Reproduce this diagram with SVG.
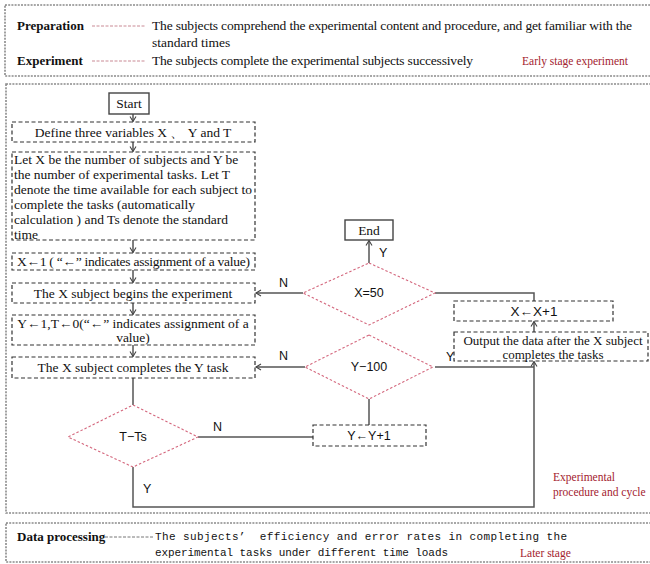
<svg xmlns="http://www.w3.org/2000/svg" width="650" height="564" viewBox="0 0 650 564">
<defs>
<style>
.frame{fill:none;stroke:#8a8a8a;stroke-width:1.6;stroke-dasharray:2 1.2}
.box{fill:#fff;stroke:#333;stroke-width:1.2;stroke-dasharray:4 2.5}
.solid{fill:#fff;stroke:#444;stroke-width:1.4}
.dia{fill:#fff;stroke:#d4677d;stroke-width:1.1;stroke-dasharray:2.5 2}
.conn{fill:none;stroke:#555;stroke-width:1.5}
.lead{fill:none;stroke:#c98a95;stroke-width:1;stroke-dasharray:3 1.5}
.serif{font-family:"Liberation Serif","Times New Roman",serif;font-size:13.5px;fill:#111}
.bold{font-family:"Liberation Serif","Times New Roman",serif;font-size:13px;font-weight:bold;fill:#111}
.sans{font-family:"Liberation Sans",Arial,sans-serif;font-size:12.5px;fill:#111}
.red{font-family:"Liberation Serif","Times New Roman",serif;font-size:11.5px;fill:#a3222e}
.mono{font-family:"Liberation Mono","Courier New",monospace;font-size:11px;fill:#111}
.c{text-anchor:middle}
</style>
<marker id="arr" markerWidth="8" markerHeight="8" refX="6" refY="4" orient="auto" markerUnits="userSpaceOnUse">
<path d="M1,1 L6,4 L1,7" fill="none" stroke="#444" stroke-width="1.1"/>
</marker>
</defs>

<!-- Stage frames -->
<g id="stage-early">
<rect class="frame" x="5" y="5" width="660" height="71"/>
<text class="bold" x="17" y="30">Preparation</text>
<line class="lead" x1="92" y1="26" x2="145" y2="26"/>
<text class="serif" x="152" y="30" textLength="480" lengthAdjust="spacing">The subjects comprehend the experimental content and procedure, and get familiar with the</text>
<text class="serif" x="152" y="47">standard times</text>
<text class="bold" x="17" y="65">Experiment</text>
<line class="lead" x1="92" y1="61" x2="145" y2="61"/>
<text class="serif" x="152" y="65" textLength="321" lengthAdjust="spacing">The subjects complete the experimental subjects successively</text>
<text class="red" x="522" y="65">Early stage experiment</text>
</g>

<g id="stage-procedure">
<rect class="frame" x="6" y="84" width="660" height="429"/>
<text class="red" x="553" y="481">Experimental</text>
<text class="red" x="553" y="496">procedure and cycle</text>
</g>

<g id="stage-later">
<rect class="frame" x="6" y="523" width="660" height="39"/>
<text class="bold" x="17" y="541">Data processing</text>
<line class="lead" x1="105" y1="537" x2="153" y2="537" style="stroke:#777"/>
<text class="mono" x="155" y="540" xml:space="preserve" textLength="412" lengthAdjust="spacing">The subjects’  efficiency and error rates in completing the</text>
<text class="mono" x="155" y="556" textLength="293" lengthAdjust="spacing">experimental tasks under different time loads</text>
<text class="red" x="520" y="557">Later stage</text>
</g>

<!-- Connectors -->
<g id="connectors">
<line class="conn" x1="133" y1="114" x2="133" y2="121.5" marker-end="url(#arr)"/>
<line class="conn" x1="133" y1="142" x2="133" y2="151.5" marker-end="url(#arr)"/>
<line class="conn" x1="133" y1="240" x2="133" y2="252.5" marker-end="url(#arr)"/>
<line class="conn" x1="133" y1="270" x2="133" y2="282.5" marker-end="url(#arr)"/>
<line class="conn" x1="133" y1="303" x2="133" y2="314.5" marker-end="url(#arr)"/>
<line class="conn" x1="133" y1="345" x2="133" y2="356.5" marker-end="url(#arr)"/>
<line class="conn" x1="133" y1="378" x2="133" y2="405"/>
<line class="conn" x1="198" y1="437" x2="313" y2="437"/>
<line class="conn" x1="369" y1="399" x2="369" y2="425"/>
<line class="conn" x1="305" y1="367" x2="256" y2="367" marker-end="url(#arr)"/>
<line class="conn" x1="303" y1="293" x2="256" y2="293" marker-end="url(#arr)"/>
<line class="conn" x1="369" y1="263" x2="369" y2="240.5" marker-end="url(#arr)"/>
<polyline class="conn" points="435,293 534,293 534,301"/>
<line class="conn" x1="534" y1="332" x2="534" y2="321.5" marker-end="url(#arr)"/>
<line class="conn" x1="435" y1="367" x2="534" y2="367"/>
<polyline class="conn" points="133,467 133,507 534,507 534,361.5" marker-end="url(#arr)"/>
<text class="sans" x="279" y="287">N</text>
<text class="sans" x="279" y="360">N</text>
<text class="sans" x="379" y="257">Y</text>
<text class="sans" x="446" y="361">Y</text>
<text class="sans" x="213" y="431">N</text>
<text class="sans" x="143" y="493">Y</text>
</g>

<!-- Nodes -->
<g id="start">
<rect class="solid" x="109" y="93" width="40" height="21"/>
<text class="serif c" x="129" y="108">Start</text>
</g>
<g id="define">
<rect class="box" x="12" y="122" width="243" height="20"/>
<text class="serif c" x="133" y="137">Define three variables X 、 Y and T</text>
</g>
<g id="let-x">
<rect class="box" x="12" y="152" width="243" height="88"/>
<text class="serif" x="14" y="164">Let X be the number of subjects and Y be</text>
<text class="serif" x="14" y="179">the number of experimental tasks. Let T</text>
<text class="serif" x="14" y="194" textLength="238" lengthAdjust="spacing">denote the time available for each subject to</text>
<text class="serif" x="14" y="209">complete the tasks (automatically</text>
<text class="serif" x="14" y="224">calculation ) and Ts denote the standard</text>
<text class="serif" x="14" y="239">time</text>
</g>
<g id="x-init">
<rect class="box" x="12" y="253" width="243" height="17"/>
<text class="serif" x="17" y="266" textLength="233" lengthAdjust="spacing">X←1 ( “←” indicates assignment of a value)</text>
</g>
<g id="begin">
<rect class="box" x="12" y="283" width="243" height="20"/>
<text class="serif c" x="133" y="298">The X subject begins the experiment</text>
</g>
<g id="y-init">
<rect class="box" x="12" y="315" width="243" height="30"/>
<text class="serif c" x="133" y="328">Y←1,T←0(“←” indicates assignment of a</text>
<text class="serif c" x="133" y="342">value)</text>
</g>
<g id="complete-task">
<rect class="box" x="12" y="357" width="243" height="21"/>
<text class="serif c" x="133" y="372">The X subject completes the Y task</text>
</g>
<g id="t-ts">
<polygon class="dia" points="133,405 198,437 133,467 68,437"/>
<text class="sans c" x="133" y="441">T−Ts</text>
</g>
<g id="y-inc">
<rect class="box" x="313" y="425" width="113" height="21"/>
<text class="sans c" x="369" y="440">Y←Y+1</text>
</g>
<g id="y-100">
<polygon class="dia" points="369,335 433,367 369,399 305,367"/>
<text class="sans c" x="369" y="371">Y−100</text>
</g>
<g id="x-50">
<polygon class="dia" points="369,263 435,293 369,325 303,293"/>
<text class="sans c" x="369" y="297">X=50</text>
</g>
<g id="end">
<rect class="solid" x="345" y="220" width="48" height="20"/>
<text class="serif c" x="369" y="235">End</text>
</g>
<g id="x-inc">
<rect class="box" x="454" y="301" width="159" height="20"/>
<text class="sans c" x="534" y="316" style="font-size:13.5px">X←X+1</text>
</g>
<g id="output">
<rect class="box" x="454" y="332" width="194" height="29"/>
<text class="serif c" x="553" y="345" style="font-size:13px">Output the data after the X subject</text>
<text class="serif c" x="553" y="359" style="font-size:13px">completes the tasks</text>
</g>
</svg>
